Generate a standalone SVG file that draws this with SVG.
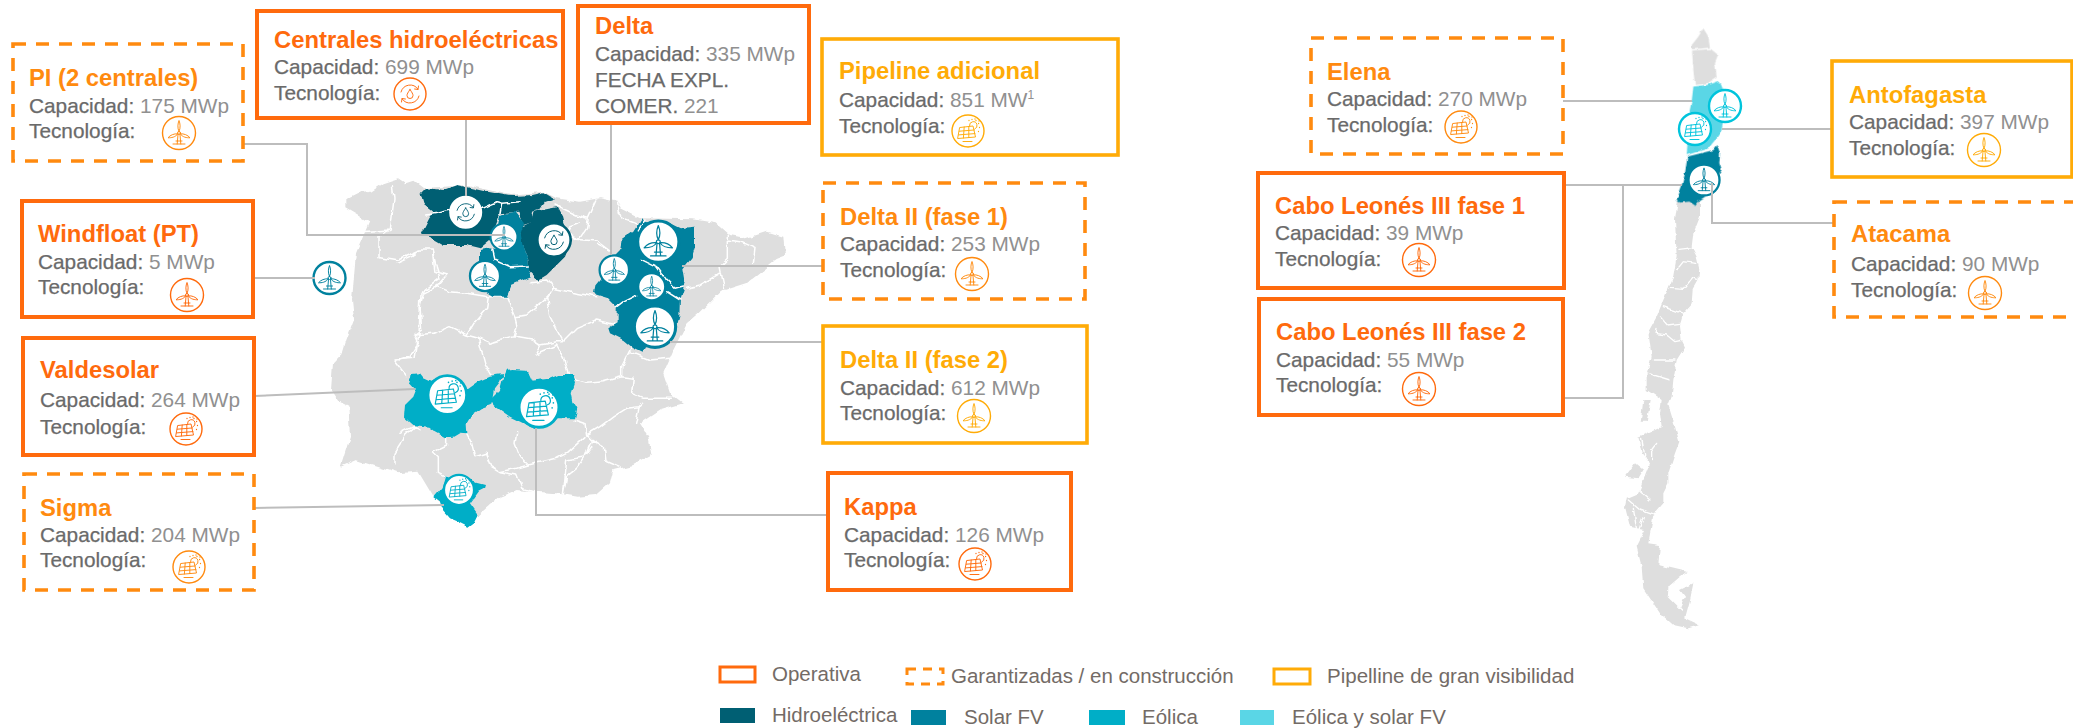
<svg xmlns="http://www.w3.org/2000/svg" xmlns:xlink="http://www.w3.org/1999/xlink" width="2073" height="728" viewBox="0 0 2073 728">
<style>
text{font-family:"Liberation Sans",Arial,sans-serif}
.ti{font-size:23.8px;font-weight:700}
.l{font-size:20.8px;fill:#6a6a6a;stroke:#6a6a6a;stroke-width:.25}
.v{fill:#909090;stroke:none}
.k{font-size:20.5px;fill:#736b66}
.op{color:#FF6A0D}.ga{color:#FF8A0F}.pi{color:#FFAB07}
.box{fill:#fff;stroke:currentColor;stroke-width:4}
.ga .box{stroke-dasharray:13 10;stroke-width:3.6}
.pi .box{stroke-width:3.6}
.ti{fill:currentColor}
.ic circle{fill:#fff;stroke:currentColor;stroke-width:1.4}
.sym{fill:none;stroke:currentColor;stroke-width:.95;stroke-linecap:round;stroke-linejoin:round}
.lnk{fill:none;stroke:#BDBDBD;stroke-width:2}
.base{fill:#DEDEDE}
.bd{fill:none;stroke:#fff;stroke-width:4.5;stroke-linejoin:round;stroke-linecap:round}
.hy{fill:#005F73;color:#005F73}.wi{fill:#00819E;color:#00819E}.so{fill:#00AEC7;color:#00AEC7}.li{fill:#5AD6E6;color:#00C4DC}
.pin circle{fill:#fff;stroke:currentColor;stroke-width:2.4}
</style>
<defs>
<filter id="rough" filterUnits="userSpaceOnUse" x="300" y="170" width="860" height="420">
<feTurbulence type="fractalNoise" baseFrequency=".09" numOctaves="2" seed="4" result="n"/>
<feDisplacementMap in="SourceGraphic" in2="n" scale="6" xChannelSelector="R" yChannelSelector="G"/>
</filter>
<filter id="rough2" filterUnits="userSpaceOnUse" x="1600" y="10" width="240" height="640">
<feTurbulence type="fractalNoise" baseFrequency=".14" numOctaves="2" seed="7" result="n"/>
<feDisplacementMap in="SourceGraphic" in2="n" scale="4" xChannelSelector="R" yChannelSelector="G"/>
</filter>
<g id="w" class="sym">
<path d="M-1,1.5L-1.8,11M1,1.5L1.8,11M-6,11H6M-3,8H3"/>
<circle r="1.5" cx="0" cy="0" style="fill:none;stroke:currentColor;stroke-width:.95"/>
<path d="M0,-1.5C-1.8,-5 -1.2,-9.5 0,-12.5C1.2,-9.5 1.8,-5 0,-1.5Z"/>
<path d="M1.3,.8C5,.5 8.7,2 11,4.8C8,4.8 3.5,4.5 1.3,.8Z"/>
<path d="M-1.3,.8C-5,.5 -8.7,2 -11,4.8C-8,4.8 -3.5,4.5 -1.3,.8Z"/>
</g>
<g id="s" class="sym">
<path d="M-8,-3.5L5,-5L7.5,6L-10,7.5ZM-8.7,.2L6.2,-1M-9.4,3.9L6.9,2.6M-3.8,-4L-4.6,7M.8,-4.5L.8,6.6M-5,10.5H4"/>
<path d="M1.5,-5A3.8,3.8 0 1 1 6.8,-2"/>
<path d="M4,-11.5v.1M8,-10.5v.1M10.6,-7.5v.1M11.5,-3.5v.1M10.5,.5v.1M1,-10.5v.1M7,-12v.1M11,-10v.1" style="stroke-width:1.3"/>
</g>
<g id="h" class="sym">
<path d="M0,-4.5C-2,-1.5 -3,0 -3,1.5A3,3 0 0 0 3,1.5C3,0 2,-1.5 0,-4.5Z"/>
<path d="M-9,-2A9.5,9.5 0 0 1 8,-4.8M8.5,-8L8,-4.5L4.6,-5"/>
<path d="M9,2A9.5,9.5 0 0 1 -8,4.8M-8.5,8L-8,4.5L-4.6,5"/>
</g>
</defs>

<g id="mapa-iberia" filter="url(#rough)">
<g transform="translate(400 160) scale(.33333)">
<path class="base" d="M-161,120L-120,100L-90,95L-52,70L-6,55L17,70L40,62L70,85L200,75L330,105L430,95L470,115L540,125L600,115L650,125L660,145L720,175L880,178L950,190L990,225L1040,235L1100,215L1150,230L1155,290L1130,300L1040,370L960,395L895,460L860,490L820,570L790,640L810,700L850,730L780,750L720,790L745,830L755,885L700,915L640,930L630,970L590,1005L530,1010L470,1000L400,995L350,990L300,1010L240,1060L205,1100L130,1050L100,1010L55,935L-6,940L-132,900L-178,920L-150,830L-155,740L-184,725L-207,690L-201,610L-173,580L-161,540L-138,480L-144,420L-132,280L-92,185L-161,145Z"/>
<path class="bd" d="M-23,80L-18,120L-29,210L-121,215M-29,210L-63,225L-63,290L-6,300L63,270L97,270L109,320L120,355L63,400L57,520L45,595L-18,600L17,645M-10,310L35,290L60,270M97,270L100,300L105,335L140,345L110,380L150,395L200,400L265,410L320,410L345,470L380,465L440,415L460,385L530,400L590,410M390,365L440,360L460,385M265,410L260,445L225,485L200,525L235,535L270,550L340,530L395,540L420,555L470,545L490,545L530,505L590,480L650,495L700,550L665,620L665,650L700,655L695,700L730,715L780,715L820,715M70,400L60,440L65,510L45,525L55,550L30,590L0,600M70,400L110,380M45,525L100,520L150,500L200,525M440,415L450,470L470,510L490,545M345,470L350,490L340,530M235,535L255,610L275,645M420,555L405,582L470,555L490,590L505,645M665,650L610,665L560,670L525,660M690,575L750,600L810,595M525,780L555,790L560,825L600,800L640,770L680,745L720,740L730,730M720,740L710,790M560,825L575,840L610,860L615,900L660,920M575,840L555,890L500,900L490,1005M575,860L530,925L500,950L490,1000M350,815L345,850L360,890L385,915L470,895L500,880L555,830M385,915L350,925L300,935L275,920L260,880L225,890L215,850L200,820M300,935L350,945L365,985L400,995M100,875L115,890L115,940L135,950M100,875L140,855L140,830M0,820L40,800L60,810M-18,915L-18,880L17,825L45,800M465,135L530,165L565,175L590,120M565,175L560,205L540,235L500,220L510,200L540,190M490,215L530,235L590,240L630,270M650,130L655,160L680,180L720,195M630,270L590,250M985,225L985,295L960,320L975,395M985,240L1020,245L1065,265L1060,310M960,340L900,375L860,385"/>
<path class="hy" d="M65,100L80,85L130,90L170,75L215,85L260,95L325,107L345,108L395,105L430,97L465,118L430,130L415,150L395,155L400,185L370,195L355,155L300,160L275,225L270,240L240,265L200,255L130,255L95,235L62,220L85,175L100,155L75,135Z"/>
<path class="bd" d="M80,165L110,160L150,150M245,145L290,125L305,130L300,160M305,130L360,125"/>
<path class="hy" d="M365,200L395,185L400,155L470,142L485,170L490,190L515,240L495,290L465,320L440,345L415,360L385,330L385,300L365,255L360,215Z"/>
<path class="wi" d="M300,165L345,155L372,190L362,220L368,260L385,300L390,352L335,375L320,410L280,410L240,385L210,350L240,300L240,270L270,265L285,270L272,230L295,190Z"/>
<path class="bd" d="M278,270L285,300L330,320L385,318"/>
<path class="wi" d="M725,175L740,190L800,185L840,205L885,200L885,260L875,295L850,325L855,355L850,385L840,415L838,470L825,520L790,555L735,565L728,578L700,565L670,540L630,520L625,505L650,490L650,440L620,410L585,400L590,375L610,350L600,320L640,290L660,270L665,240L700,215Z"/>
<path class="bd" d="M720,295L770,320L800,360L825,385L850,378M800,395L840,420M650,440L670,425L710,405M715,210L735,180"/>
<path class="so" d="M30,650L35,642L60,640L72,655L95,665L120,650L175,680L200,690L235,665L270,650L308,645L300,665L285,685L280,715L272,735L245,745L215,765L200,790L202,820L180,818L160,830L135,832L105,815L85,800L40,795L12,770L15,735L40,710L48,690L25,665Z"/>
<path class="so" d="M318,632L335,630L380,632L395,665L440,660L475,645L515,645L525,670L515,700L520,725L532,745L525,775L470,775L410,805L370,790L330,770L280,735L275,715L300,690L310,650Z"/>
<path class="so" d="M100,1015L125,985L135,950L175,945L220,965L258,975L255,985L235,995L210,1030L235,1065L225,1085L205,1100L175,1085L150,1075L120,1040L115,1025Z"/>
</g>
</g>

<g id="mapa-chile" filter="url(#rough2)">
<g transform="translate(1580 200) scale(.33333)">
<path class="base" d="M295,-5L360,-5L360,50L340,100L335,140L350,170L358,205L355,240L338,270L335,310L310,340L300,375L305,420L315,440L290,480L280,540L275,590L265,615L285,680L298,725L285,760L265,820L265,850L250,880L250,910L220,945L205,1030L240,1035L235,1095L320,1115L300,1130L265,1160L265,1190L300,1225L315,1190L300,1170L340,1150L330,1200L315,1255L360,1275L325,1285L280,1275L240,1240L190,1165L185,1100L170,1040L195,990L150,980L135,920L140,895L175,880L210,790L185,760L175,710L225,690L245,680L240,640L245,600L200,570L200,520L215,470L205,395L230,350L250,300L280,230L290,170L285,60Z"/>
<path class="base" d="M190,600L212,600L200,665L182,665Z"/>
<path class="base" d="M165,790L190,810L175,835L135,830Z"/>
<path class="bd" style="stroke-width:4" d="M297,148L340,143M290,210L310,185L350,190M270,265L310,268L340,230L352,235M250,320L310,340M240,350L262,375L300,370M228,385L225,400L260,405L285,425L310,420M220,480L285,480M205,520L270,540M145,900L180,930L220,945M160,925L170,990M190,950L170,1010M175,870L210,900M230,730L215,750L215,780M185,715L195,770M320,1120L270,1160L265,1190L305,1230"/>
</g>
<g transform="translate(1600 20) scale(.33333)">
<path class="base" d="M275,75L295,50L310,25L325,50L330,85L355,105L345,130L350,170L320,190L285,195L280,150Z"/>
<path class="bd" style="stroke-width:4" d="M275,90L330,85"/>
<path class="li" d="M280,200L320,195L358,182L370,210L378,240L370,300L365,330L345,360L325,385L260,405L262,380L260,340L265,290L275,245Z"/>
<path class="wi" d="M262,410L340,390L352,375L360,400L358,430L365,450L352,470L345,510L300,540L285,558L265,545L240,548L230,540L245,500L255,460Z"/>
</g>
</g>

<g id="pines">
<g class="pin hy" style="fill:none"><g transform="translate(465.7 212.3) scale(.96)"><circle r="16" style="stroke:#fff"/><use href="#h"/></g></g>
<g class="pin hy" style="fill:none"><g transform="translate(554 240) scale(1.04)"><circle r="16"/><use href="#h"/></g></g>
<g class="pin wi" style="fill:none"><g transform="translate(504 237) scale(.84)"><circle r="16"/><use href="#w"/></g></g>
<g class="pin wi" style="fill:none"><g transform="translate(485 276) scale(.94)"><circle r="16"/><use href="#w"/></g></g>
<g class="pin wi" style="fill:none"><g transform="translate(329.5 278)"><circle r="16"/><use href="#w"/></g></g>
<g class="pin wi" style="fill:none"><g transform="translate(614.3 270) scale(.92)"><circle r="16"/><use href="#w"/></g></g>
<g class="pin wi" style="fill:none"><g transform="translate(658.3 241.7) scale(1.29)"><circle r="16"/><use href="#w"/></g></g>
<g class="pin wi" style="fill:none"><g transform="translate(651.7 286.7) scale(.84)"><circle r="16"/><use href="#w"/></g></g>
<g class="pin wi" style="fill:none"><g transform="translate(655 326.7) scale(1.29)"><circle r="16"/><use href="#w"/></g></g>
<g class="pin so" style="fill:none"><g transform="translate(447.3 395) scale(1.21)"><circle r="16"/><use href="#s"/></g></g>
<g class="pin so" style="fill:none"><g transform="translate(539 407.3) scale(1.25)"><circle r="16"/><use href="#s"/></g></g>
<g class="pin so" style="fill:none"><g transform="translate(459 490) scale(.94)"><circle r="16"/><use href="#s"/></g></g>
<g class="pin li" style="fill:none"><g transform="translate(1725 106)"><circle r="16"/><use href="#w"/></g></g>
<g class="pin li" style="fill:none"><g transform="translate(1695 129)"><circle r="16"/><use href="#s"/></g></g>
<g class="pin wi" style="fill:none"><g transform="translate(1704 180) scale(.97)"><circle r="16"/><use href="#w"/></g></g>
</g>

<g id="conectores">
<path class="lnk" d="M243,144H307V235H505"/>
<path class="lnk" d="M466,118V196"/>
<path class="lnk" d="M253,278H315"/>
<path class="lnk" d="M254,396L415,389"/>
<path class="lnk" d="M254,508L444,505"/>
<path class="lnk" d="M536,428V515H828"/>
<path class="lnk" d="M611,123V255"/>
<path class="lnk" d="M682,266H823"/>
<path class="lnk" d="M670,342H823"/>
<path class="lnk" d="M1563,101H1692"/>
<path class="lnk" d="M1564,185H1682"/>
<path class="lnk" d="M1563,398H1623V185"/>
<path class="lnk" d="M1722,129H1832"/>
<path class="lnk" d="M1712,183V223H1834"/>
</g>

<g id="pi2" class="ga"><rect class="box" x="13" y="44" width="230" height="117"/><text class="ti" x="29" y="86">PI (2 centrales)</text><text class="l" x="29" y="113">Capacidad: <tspan class="v">175 MWp</tspan></text><text class="l" x="29" y="138">Tecnología:</text><g class="ic" transform="translate(179 133)"><circle r="16.5"/><use href="#w"/></g></g>
<g id="centrales" class="op"><rect class="box" x="257" y="11" width="306" height="107"/><text class="ti" x="274" y="48">Centrales hidroeléctricas</text><text class="l" x="274" y="74">Capacidad: <tspan class="v">699 MWp</tspan></text><text class="l" x="274" y="100">Tecnología:</text><g class="ic" transform="translate(410 94)"><circle r="16"/><use href="#h"/></g></g>
<g id="delta" class="op"><rect class="box" x="578" y="6" width="231" height="117"/><text class="ti" x="595" y="34">Delta</text><text class="l" x="595" y="61">Capacidad: <tspan class="v">335 MWp</tspan></text><text class="l" x="595" y="87">FECHA EXPL.</text><text class="l" x="595" y="113">COMER. <tspan class="v">221</tspan></text></g>
<g id="pipeline" class="pi"><rect class="box" x="822" y="39" width="296" height="116"/><text class="ti" x="839" y="79">Pipeline adicional</text><text class="l" x="839" y="107">Capacidad: <tspan class="v">851 MW<tspan font-size="12" dy="-8">1</tspan></tspan></text><text class="l" x="839" y="133">Tecnología:</text><g class="ic" transform="translate(968 131)"><circle r="16"/><use href="#s"/></g></g>
<g id="delta2f1" class="ga"><rect class="box" x="823" y="183" width="262" height="116"/><text class="ti" x="840" y="225">Delta II (fase 1)</text><text class="l" x="840" y="251">Capacidad: <tspan class="v">253 MWp</tspan></text><text class="l" x="840" y="277">Tecnología:</text><g class="ic" transform="translate(972 274)"><circle r="16.5"/><use href="#w"/></g></g>
<g id="delta2f2" class="pi"><rect class="box" x="823" y="326" width="264" height="117"/><text class="ti" x="840" y="368">Delta II (fase 2)</text><text class="l" x="840" y="395">Capacidad: <tspan class="v">612 MWp</tspan></text><text class="l" x="840" y="420">Tecnología:</text><g class="ic" transform="translate(974 416)"><circle r="16.5"/><use href="#w"/></g></g>
<g id="kappa" class="op"><rect class="box" x="828" y="473" width="243" height="117"/><text class="ti" x="844" y="515">Kappa</text><text class="l" x="844" y="542">Capacidad: <tspan class="v">126 MWp</tspan></text><text class="l" x="844" y="567">Tecnología:</text><g class="ic" transform="translate(975 564)"><circle r="16"/><use href="#s"/></g></g>
<g id="windfloat" class="op"><rect class="box" x="22" y="201" width="231" height="116"/><text class="ti" x="38" y="242">Windfloat (PT)</text><text class="l" x="38" y="269">Capacidad: <tspan class="v">5 MWp</tspan></text><text class="l" x="38" y="294">Tecnología:</text><g class="ic" transform="translate(187 295)"><circle r="16.5"/><use href="#w"/></g></g>
<g id="valdesolar" class="op"><rect class="box" x="23" y="338" width="231" height="117"/><text class="ti" x="40" y="378">Valdesolar</text><text class="l" x="40" y="407">Capacidad: <tspan class="v">264 MWp</tspan></text><text class="l" x="40" y="434">Tecnología:</text><g class="ic" transform="translate(186 429)"><circle r="16"/><use href="#s"/></g></g>
<g id="sigma" class="ga"><rect class="box" x="24" y="474" width="230" height="116"/><text class="ti" x="40" y="516">Sigma</text><text class="l" x="40" y="542">Capacidad: <tspan class="v">204 MWp</tspan></text><text class="l" x="40" y="567">Tecnología:</text><g class="ic" transform="translate(189 567)"><circle r="16"/><use href="#s"/></g></g>
<g id="elena" class="ga"><rect class="box" x="1311" y="38" width="252" height="116"/><text class="ti" x="1327" y="80">Elena</text><text class="l" x="1327" y="106">Capacidad: <tspan class="v">270 MWp</tspan></text><text class="l" x="1327" y="132">Tecnología:</text><g class="ic" transform="translate(1461 127)"><circle r="16"/><use href="#s"/></g></g>
<g id="cabo1" class="op"><rect class="box" x="1258" y="173" width="306" height="115"/><text class="ti" x="1275" y="214">Cabo Leonés III fase 1</text><text class="l" x="1275" y="240">Capacidad: <tspan class="v">39 MWp</tspan></text><text class="l" x="1275" y="266">Tecnología:</text><g class="ic" transform="translate(1419 260)"><circle r="16.5"/><use href="#w"/></g></g>
<g id="cabo2" class="op"><rect class="box" x="1259" y="299" width="304" height="116"/><text class="ti" x="1276" y="340">Cabo Leonés III fase 2</text><text class="l" x="1276" y="367">Capacidad: <tspan class="v">55 MWp</tspan></text><text class="l" x="1276" y="392">Tecnología:</text><g class="ic" transform="translate(1419 389)"><circle r="16.5"/><use href="#w"/></g></g>
<g id="antofagasta" class="pi"><rect class="box" x="1832" y="61" width="240" height="116"/><text class="ti" x="1849" y="103">Antofagasta</text><text class="l" x="1849" y="129">Capacidad: <tspan class="v">397 MWp</tspan></text><text class="l" x="1849" y="155">Tecnología:</text><g class="ic" transform="translate(1984 150)"><circle r="16.5"/><use href="#w"/></g></g>
<g id="atacama" class="ga"><rect class="box" x="1834" y="202" width="300" height="115"/><text class="ti" x="1851" y="242">Atacama</text><text class="l" x="1851" y="271">Capacidad: <tspan class="v">90 MWp</tspan></text><text class="l" x="1851" y="297">Tecnología:</text><g class="ic" transform="translate(1985 293)"><circle r="16.5"/><use href="#w"/></g></g>

<g id="leyenda">
<g class="op"><rect class="box" x="720" y="667" width="35" height="15" style="stroke-width:3"/></g><text class="k" x="772" y="681">Operativa</text>
<g class="ga"><rect class="box" x="907" y="669" width="36" height="15" style="stroke-width:3;stroke-dasharray:9 7"/></g><text class="k" x="951" y="683">Garantizadas / en construcción</text>
<g class="pi"><rect class="box" x="1274" y="669" width="36" height="15" style="stroke-width:3"/></g><text class="k" x="1327" y="683">Pipelline de gran visibilidad</text>
<rect class="hy" x="720" y="708" width="35" height="15"/><text class="k" x="772" y="722">Hidroeléctrica</text>
<rect class="wi" x="911" y="710" width="35" height="15"/><text class="k" x="964" y="724">Solar FV</text>
<rect class="so" x="1089" y="710" width="36" height="15"/><text class="k" x="1142" y="724">Eólica</text>
<rect class="li" x="1240" y="710" width="34" height="15"/><text class="k" x="1292" y="724">Eólica y solar FV</text>
</g>
</svg>
